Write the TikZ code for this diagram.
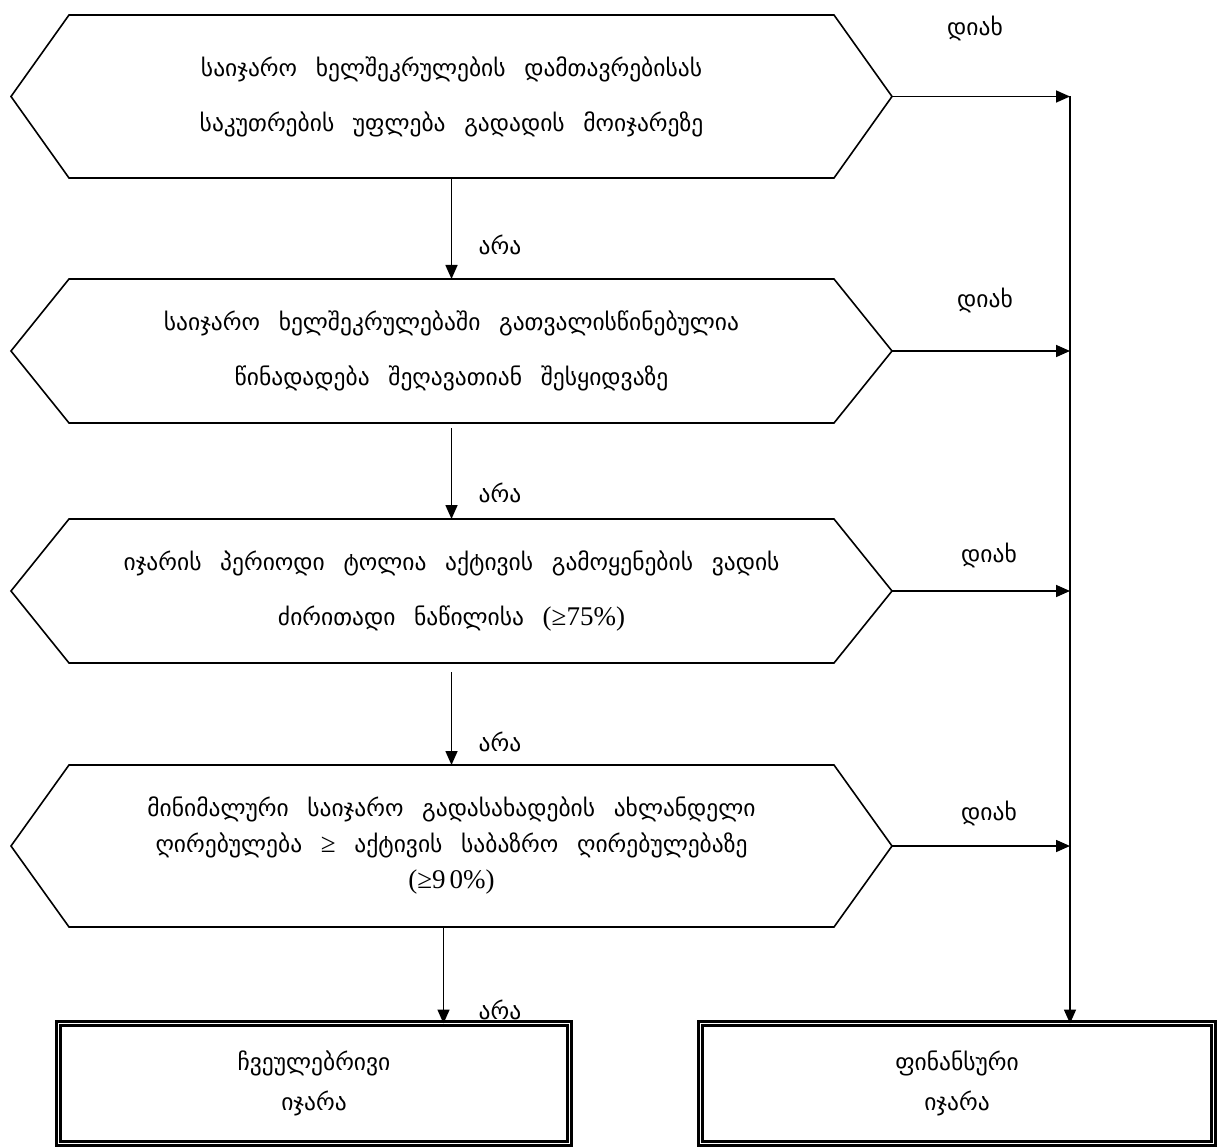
\documentclass[tikz,border=0pt]{standalone}
\usepackage{fontspec}
\setmainfont{Liberation Serif}
\newfontfamily\geo[WordSpace=2.5]{DejaVu Sans}
\usetikzlibrary{arrows.meta}
\tikzset{
  hexnode/.style={minimum width=765pt, minimum height=#1, inner sep=0pt, outer sep=0pt, align=center,
    font=\geo\fontsize{23.5}{55}\selectfont},
  hexline/.style={line width=1.6pt, line join=miter},
  arr/.style={line width=1.6pt, -{Triangle[length=14pt,width=12pt]}},
  endbox/.style={draw, double, line width=2.4pt, double distance=1.6pt, inner sep=0pt, outer sep=0pt,
    minimum height=120pt, align=center, font=\geo\fontsize{23.5}{40}\selectfont},
  lab/.style={font=\geo\fontsize{23.5}{26}\selectfont, inner sep=0pt}
}
\newcommand\hexpath[1]{\draw[hexline] (#1.north west) -- (#1.north east) -- ([xshift=58pt]#1.east) -- (#1.south east) -- (#1.south west) -- ([xshift=-58pt]#1.west) -- cycle;}
\newcommand\numtxt[1]{{\rmfamily\fontsize{27}{30}\selectfont #1}}
\begin{document}
\begin{tikzpicture}[x=1pt,y=-1pt]
\useasboundingbox (0,0) rectangle (1217,1147);

\node[hexnode=163pt] (h1) at (451.5,96.5) {საიჯარო ხელშეკრულების დამთავრებისას\\საკუთრების უფლება გადადის მოიჯარეზე};
\node[hexnode=144pt] (h2) at (451.5,351) {საიჯარო ხელშეკრულებაში გათვალისწინებულია\\წინადადება შეღავათიან შესყიდვაზე};
\node[hexnode=144pt] (h3) at (451.5,591) {იჯარის პერიოდი ტოლია აქტივის გამოყენების ვადის\\ძირითადი ნაწილისა \numtxt{(≥75\%)}};
\node[hexnode=162pt, font=\geo\fontsize{23.5}{36}\selectfont] (h4) at (451.5,846) {მინიმალური საიჯარო გადასახადების ახლანდელი\\ღირებულება \numtxt{≥} აქტივის საბაზრო ღირებულებაზე\\\numtxt{(≥9\kern4pt0\%)}};
\hexpath{h1}
\hexpath{h2}
\hexpath{h3}
\hexpath{h4}

\node[endbox, minimum width=511pt] (lbox) at (314,1083.5) {ჩვეულებრივი\\იჯარა};
\node[endbox, minimum width=513pt] (rbox) at (957,1083.5) {ფინანსური\\იჯარა};

\coordinate (t1) at ([xshift=58pt]h1.east);
\coordinate (t2) at ([xshift=58pt]h2.east);
\coordinate (t3) at ([xshift=58pt]h3.east);
\coordinate (t4) at ([xshift=58pt]h4.east);
\coordinate (vtop) at (1070,96.5);

\draw[arr] (t1) -- (t1 -| vtop);
\draw[arr] (t2) -- (t2 -| vtop);
\draw[arr] (t3) -- (t3 -| vtop);
\draw[arr] (t4) -- (t4 -| vtop);
\draw[arr] (vtop) -- (vtop |- rbox.north);

\draw[arr] (h1.south) -- (h2.north);
\draw[arr, shorten <=5pt] (h2.south) -- (h3.north);
\draw[arr, shorten <=9pt] (h3.south) -- (h4.north);
\draw[arr] ([xshift=-8pt]h4.south) -- ([xshift=-8pt]h4.south |- lbox.north);

\node[lab] (n1) at (500,245) {არა};
\node[lab] (n2) at (500,493) {არა};
\node[lab] (n3) at (500,742) {არა};
\node[lab] (n4) at (500,1010) {არა};
\node[lab] (y1) at (975,28) {დიახ};
\node[lab] (y2) at (985,300) {დიახ};
\node[lab] (y3) at (989,555) {დიახ};
\node[lab] (y4) at (989,813) {დიახ};
\end{tikzpicture}
\end{document}
